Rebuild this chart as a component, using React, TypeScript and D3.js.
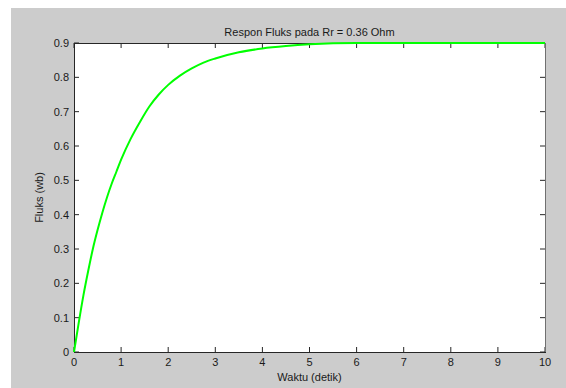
import * as d3 from 'd3'

// Respon fluks
const waktu = [0, 0.1, 0.2, 0.3, 0.4, 0.5, 0.6, 0.7, 0.8, 0.9, 1.0, 1.2, 1.4, 1.6, 1.8, 2.0, 2.25, 2.5, 2.75, 3.0, 3.5, 4.0, 4.5, 5.0, 5.5, 6.0, 7.0, 8.0, 9.0, 10.0]
const fluks = [0, 0.085, 0.165, 0.235, 0.30, 0.355, 0.405, 0.45, 0.49, 0.525, 0.56, 0.62, 0.67, 0.715, 0.75, 0.778, 0.805, 0.826, 0.843, 0.855, 0.873, 0.884, 0.891, 0.896, 0.899, 0.9, 0.9, 0.9, 0.9, 0.9]

const xTicks = [0, 1, 2, 3, 4, 5, 6, 7, 8, 9, 10]
const yTicks = [0, 0.1, 0.2, 0.3, 0.4, 0.5, 0.6, 0.7, 0.8, 0.9]

const judul = 'Respon Fluks pada Rr = 0.36 Ohm'
const labelX = 'Waktu (detik)'
const labelY = 'Fluks (wb)'

export default function App() {
  const width = 566
  const height = 388
  const margin = { top: 43, right: 21, bottom: 36, left: 74 }
  const innerW = width - margin.left - margin.right
  const innerH = height - margin.top - margin.bottom

  const x = d3.scaleLinear().domain([0, 10]).range([0, innerW])
  const y = d3.scaleLinear().domain([0, 0.9]).range([innerH, 0])

  const data = waktu.map((t, i) => ({ t, v: fluks[i] }))
  const line = d3.line<{ t: number; v: number }>()
    .x(d => x(d.t))
    .y(d => y(d.v))
    .curve(d3.curveMonotoneX)

  const font = '"Liberation Sans", Arial, sans-serif'
  const tickLen = 5

  return (
    <div style={{ position: 'fixed', left: 0, top: 0, width, height, background: '#fff' }}>
      <svg width={width} height={height} style={{ display: 'block' }}>
        {/* latar belakang figure */}
        <rect x={11} y={8} width={width - 11} height={height - 8} fill="#cccccc" />
        <g transform={`translate(${margin.left},${margin.top})`}>
          <rect x={0} y={0} width={innerW} height={innerH} fill="#ffffff" />

          {/* ticks bawah & atas */}
          {xTicks.map(t => (
            <g key={'x' + t}>
              <line x1={x(t)} x2={x(t)} y1={innerH} y2={innerH - tickLen} stroke="#262626" />
              <line x1={x(t)} x2={x(t)} y1={0} y2={tickLen} stroke="#262626" />
              <text x={x(t)} y={innerH + 14} textAnchor="middle" fontSize={11} fontFamily={font} fill="#1a1a1a">{t}</text>
            </g>
          ))}

          {/* ticks kiri & kanan */}
          {yTicks.map(t => (
            <g key={'y' + t}>
              <line x1={0} x2={tickLen} y1={y(t)} y2={y(t)} stroke="#262626" />
              <line x1={innerW} x2={innerW - tickLen} y1={y(t)} y2={y(t)} stroke="#262626" />
              <text x={-5} y={y(t)} dy="0.35em" textAnchor="end" fontSize={11} fontFamily={font} fill="#1a1a1a">{d3.format('')(t)}</text>
            </g>
          ))}

          {/* kotak axes */}
          <line x1={innerW + 0.5} x2={innerW + 0.5} y1={0} y2={innerH} stroke="#707070" />
          <line x1={0} x2={innerW} y1={0.5} y2={0.5} stroke="#262626" />
          <line x1={0.5} x2={0.5} y1={0} y2={innerH} stroke="#262626" />
          <line x1={0} x2={innerW + 1} y1={innerH + 0.5} y2={innerH + 0.5} stroke="#262626" />

          <path d={line(data) ?? ''} fill="none" stroke="#00ff00" strokeWidth={2} />

          <text x={innerW / 2} y={-7} textAnchor="middle" fontSize={11} fontFamily={font} fill="#1a1a1a">{judul}</text>
          <text x={innerW / 2} y={innerH + 29} textAnchor="middle" fontSize={11} fontFamily={font} fill="#1a1a1a">{labelX}</text>
          <text transform={`translate(${39 - margin.left},${innerH / 2}) rotate(-90)`} textAnchor="middle" dy="0.35em" fontSize={11} fontFamily={font} fill="#1a1a1a">{labelY}</text>
        </g>
      </svg>
    </div>
  )
}
